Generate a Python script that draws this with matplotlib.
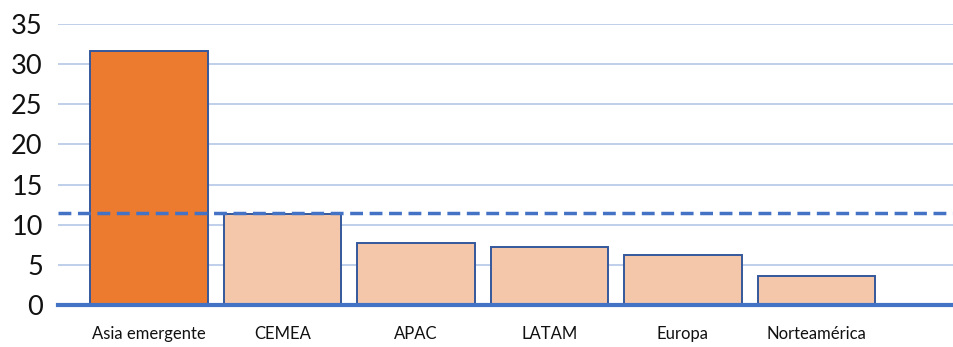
import matplotlib
matplotlib.use("Agg")
import matplotlib.pyplot as plt

regions = ["Asia emergente", "CEMEA", "APAC", "LATAM", "Europa", "Norteamérica"]
values = [31.6, 11.3, 7.7, 7.2, 6.2, 3.6]
average = 11.45
y_ticks = [0, 5, 10, 15, 20, 25, 30, 35]

plt.rcParams["font.family"] = ["Lato", "DejaVu Sans"]

W, H = 954, 347
fig = plt.figure(figsize=(W / 100, H / 100), dpi=100)
ax = fig.add_axes([58 / W, 42 / H, (954 - 58) / W, (305 - 24) / H])

colors = ["#ec7b2f"] + ["#f5c7aa"] * (len(values) - 1)
x = list(range(len(regions)))
ax.bar(x, values, width=0.88, color=colors, edgecolor="#34589c",
       linewidth=1.4, zorder=3)

ax.axhline(average, color="#4472c4", linewidth=2.5, linestyle=(0, (3.7, 1.9)),
           zorder=4)

ax.set_ylim(0, 35)
ax.set_xlim(-0.68, 6.03)
ax.set_yticks(y_ticks)
ax.set_yticklabels([str(v) for v in y_ticks], fontsize=19.5, color="#111111")
ax.set_xticks(x)
ax.set_xticklabels(regions, fontsize=12, color="#111111")
ax.tick_params(axis="both", length=0)
ax.tick_params(axis="x", pad=15)
ax.tick_params(axis="y", pad=11)

ax.yaxis.grid(True, color="#b4c7e7", linewidth=1.2, zorder=0)
ax.set_axisbelow(True)
for side in ["top", "right", "left"]:
    ax.spines[side].set_visible(False)
ax.spines["bottom"].set_color("#4472c4")
ax.spines["bottom"].set_linewidth(3)
ax.spines["bottom"].set_zorder(5)

fig.savefig("out.png", dpi=100)
